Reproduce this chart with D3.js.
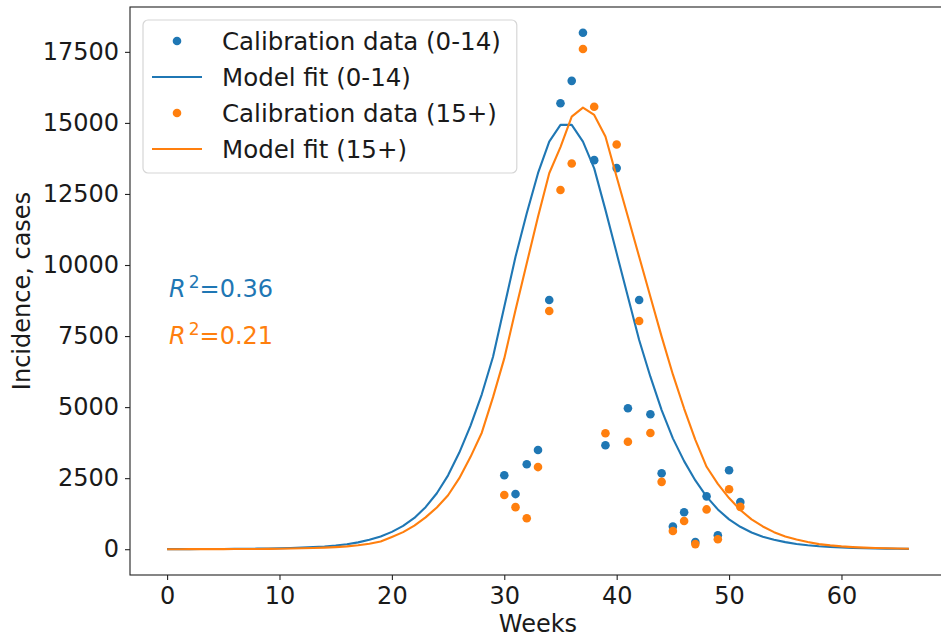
<!DOCTYPE html>
<html>
<head>
<meta charset="utf-8">
<script src="https://cdn.jsdelivr.net/npm/d3@7"></script>
<style>
  html, body { margin: 0; padding: 0; background: #fff; overflow: hidden; }
  svg { display: block; font-family: "DejaVu Sans", sans-serif; }
</style>
</head>
<body>
<svg width="941" height="637"></svg>
<script>
// calibration weeks and observed incidence
const dataWeeks = [30, 31, 32, 33, 34, 35, 36, 37, 38, 39, 40, 41, 42, 43, 44, 45, 46, 47, 48, 49, 50, 51];
const dataKids = [2600, 1940, 2990, 3490, 8770, 15690, 16480, 18170, 13690, 3660, 13410, 4960, 8770, 4750, 2670, 800, 1300, 250, 1860, 490, 2780, 1660];
const dataAdults = [1910, 1480, 1090, 2890, 8380, 12640, 13570, 17600, 15570, 4080, 14240, 3780, 8030, 4090, 2370, 640, 990, 180, 1400, 350, 2110, 1490];

// model fit, weeks 0..66
const modelWeeks = d3.range(0, 67);
const modelKids = [2, 3, 4, 5, 7, 9, 12, 15, 19, 25, 32, 42, 55, 72, 95, 128, 175, 240, 330, 450,
  610, 820, 1100, 1480, 1970, 2600, 3400, 4350, 5450, 6770, 8530, 10290, 11820, 13230, 14340, 14930,
  14930, 14340, 13400, 11940, 10410, 8880, 7360, 6070, 4894, 3900, 3100, 2420, 1850, 1400, 1050,
  790, 590, 440, 330, 250, 185, 140, 105, 80, 60, 45, 34, 26, 20, 15, 11];
const modelAdults = [1, 1, 2, 2, 3, 4, 6, 8, 10, 13, 18, 24, 32, 42, 56, 75, 100, 140, 195, 270,
  430, 600, 830, 1120, 1470, 1900, 2500, 3250, 4100, 5350, 6714, 8415, 10060, 11700, 13230, 14150,
  15220, 15540, 15280, 14520, 13100, 11700, 10290, 8880, 7480, 6150, 4950, 3850, 2900, 2300, 1800,
  1380, 1050, 800, 600, 450, 340, 255, 180, 135, 100, 75, 56, 42, 32, 24, 18];

const xTicks = [0, 10, 20, 30, 40, 50, 60];
const yTicks = [0, 2500, 5000, 7500, 10000, 12500, 15000, 17500];
const legendLabels = ["Calibration data (0-14)", "Model fit (0-14)", "Calibration data (15+)", "Model fit (15+)"];
const r2Values = ["0.36", "0.21"];

const blue = "#1f77b4";
const orange = "#ff7f0e";
const fontSize = 24;

const svg = d3.select("svg");
const margin = { left: 130, top: 7, right: 946, bottom: 575 };

// matplotlib style 5% margins
const xPad = 0.05 * (d3.max(modelWeeks) - d3.min(modelWeeks));
const allY = dataKids.concat(dataAdults, modelKids, modelAdults);
const yPad = 0.05 * (d3.max(allY) - d3.min(allY));

const x = d3.scaleLinear()
  .domain([d3.min(modelWeeks) - xPad, d3.max(modelWeeks) + xPad])
  .range([margin.left, margin.right]);
const y = d3.scaleLinear()
  .domain([d3.min(allY) - yPad, d3.max(allY) + yPad])
  .range([margin.bottom, margin.top]);

const plot = svg.append("g");

const line = d3.line().x(d => x(d[0])).y(d => y(d[1]));

function drawDots(values, color) {
  plot.append("g")
    .selectAll("circle")
    .data(dataWeeks.map((w, i) => [w, values[i]]))
    .enter()
    .append("circle")
    .attr("cx", d => x(d[0]))
    .attr("cy", d => y(d[1]))
    .attr("r", 4.3)
    .attr("fill", color);
}

function drawLine(values, color) {
  plot.append("path")
    .datum(modelWeeks.map((w, i) => [w, values[i]]))
    .attr("d", line)
    .attr("fill", "none")
    .attr("stroke", color)
    .attr("stroke-width", 2.1)
    .attr("stroke-linejoin", "round");
}

drawDots(dataKids, blue);
drawLine(modelKids, blue);
drawDots(dataAdults, orange);
drawLine(modelAdults, orange);

// axes
const xAxis = svg.append("g")
  .attr("transform", `translate(0,${margin.bottom})`)
  .call(d3.axisBottom(x).tickValues(xTicks).tickSize(5).tickPadding(7).tickSizeOuter(0));
const yAxis = svg.append("g")
  .attr("transform", `translate(${margin.left},0)`)
  .call(d3.axisLeft(y).tickValues(yTicks).tickSize(5).tickPadding(6).tickSizeOuter(0).tickFormat(d3.format("d")));

[xAxis, yAxis].forEach(a => {
  a.select(".domain").remove();
  a.selectAll(".tick line").attr("stroke", "#222").attr("stroke-width", 1.1);
  a.selectAll(".tick text")
    .attr("fill", "#1a1a1a")
    .style("font-size", fontSize + "px")
    .style("font-family", "DejaVu Sans");
});

// spines (right one falls outside the cropped view)
svg.append("rect")
  .attr("x", margin.left)
  .attr("y", margin.top)
  .attr("width", margin.right - margin.left)
  .attr("height", margin.bottom - margin.top)
  .attr("fill", "none")
  .attr("stroke", "#222")
  .attr("stroke-width", 1.1);

// axis labels
svg.append("text")
  .attr("x", (margin.left + margin.right) / 2)
  .attr("y", 632)
  .attr("text-anchor", "middle")
  .attr("fill", "#1a1a1a")
  .style("font-size", fontSize + "px")
  .text("Weeks");

svg.append("text")
  .attr("transform", `translate(30,${(margin.top + margin.bottom) / 2}) rotate(-90)`)
  .attr("text-anchor", "middle")
  .attr("fill", "#1a1a1a")
  .style("font-size", fontSize + "px")
  .text("Incidence, cases");

// R^2 annotations
[[r2Values[0], blue, 8880], [r2Values[1], orange, 7230]].forEach(([v, color, yv]) => {
  const t = svg.append("text")
    .attr("x", x(0) + 2)
    .attr("y", y(yv))
    .attr("fill", color)
    .style("font-size", fontSize + "px");
  t.append("tspan").style("font-style", "italic").text("R");
  t.append("tspan").attr("dx", 3).attr("dy", -9).style("font-size", "17px").text("2");
  t.append("tspan").attr("dy", 9).text("=" + v);
});

// legend
const legend = svg.append("g");
const lx = 143, ly = 20, rowH = 36;
const box = legend.append("rect")
  .attr("x", lx)
  .attr("y", ly)
  .attr("rx", 5)
  .attr("fill", "#fff")
  .attr("fill-opacity", 0.8)
  .attr("stroke", "#d6d6d6")
  .attr("stroke-width", 1.2);

const legendColors = [blue, blue, orange, orange];
let maxW = 0;
legendLabels.forEach((label, i) => {
  const cy = ly + 21 + i * rowH;
  if (i % 2 === 0) {
    legend.append("circle").attr("cx", 177).attr("cy", cy).attr("r", 4.3).attr("fill", legendColors[i]);
  } else {
    legend.append("line")
      .attr("x1", 152).attr("x2", 202)
      .attr("y1", cy).attr("y2", cy)
      .attr("stroke", legendColors[i]).attr("stroke-width", 2.1);
  }
  const t = legend.append("text")
    .attr("x", 222)
    .attr("y", cy)
    .attr("dy", "0.36em")
    .attr("fill", "#1a1a1a")
    .style("font-size", "24.5px")
    .text(label);
  maxW = Math.max(maxW, t.node().getComputedTextLength());
});
box.attr("width", 222 + maxW + 16 - lx).attr("height", rowH * 4 + 9);
</script>
</body>
</html>
